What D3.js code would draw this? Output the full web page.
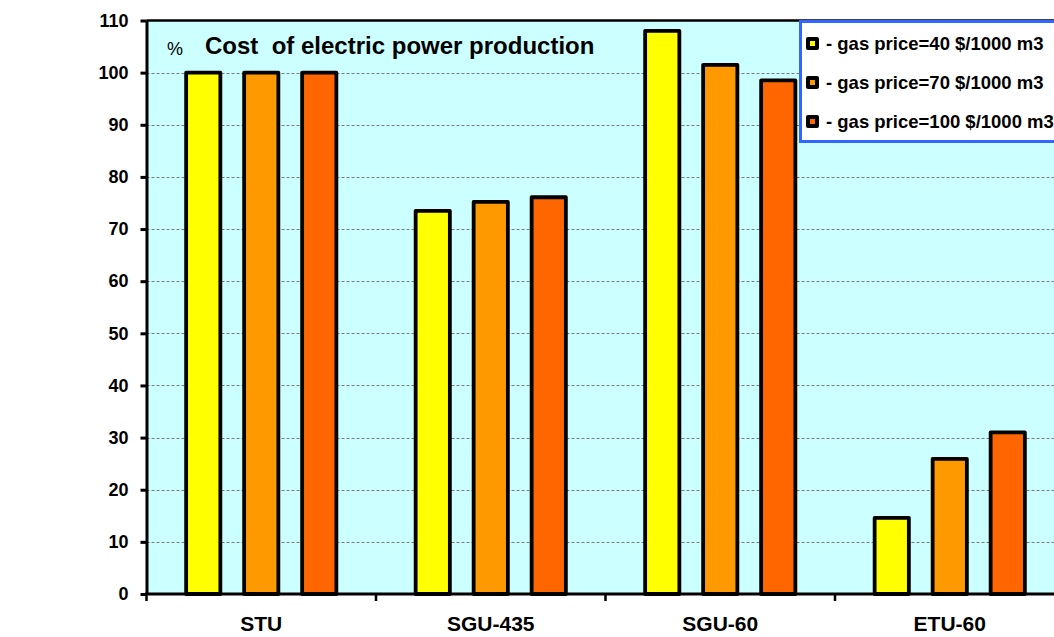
<!DOCTYPE html>
<html>
<head>
<meta charset="utf-8">
<script src="https://cdn.jsdelivr.net/npm/d3@7"></script>
<style>
  html, body { margin: 0; padding: 0; background: #ffffff; overflow: hidden; }
  svg { display: block; font-family: Arial, "Liberation Sans", sans-serif; }
</style>
</head>
<body>
<svg id="chart" width="1054" height="637"></svg>
<script>
// Plant types and gas-price scenarios
const categories = ["STU", "SGU-435", "SGU-60", "ETU-60"];
const seriesNames = ["- gas price=40 $/1000 m3", "- gas price=70 $/1000 m3", "- gas price=100 $/1000 m3"];
const gas40  = [100, 73.5, 108, 14.6];
const gas70  = [100, 75.2, 101.5, 25.9];
const gas100 = [100, 76.1, 98.5, 31.0];
const yTicks = [0, 10, 20, 30, 40, 50, 60, 70, 80, 90, 100, 110];
const colors = ["#ffff00", "#ff9900", "#ff6600"];

const seriesValues = [gas40, gas70, gas100];
const data = categories.map((c, i) => ({
  cat: c,
  values: seriesNames.map((s, j) => ({ key: s, value: seriesValues[j][i], color: colors[j] }))
}));

const svg = d3.select("#chart");
const plot = { left: 146.5, top: 20.5, right: 1064.5, bottom: 594 };

const y = d3.scaleLinear().domain([0, 110]).range([plot.bottom, plot.top]);
const x0 = d3.scaleBand().domain(categories).range([plot.left, plot.right]).padding(0);
const bw = x0.bandwidth();
const x1 = d3.scaleBand().domain(seriesNames)
  .range([bw / 2 - 87, bw / 2 + 87]).paddingInner(0.41).paddingOuter(0.205);

// plot background
svg.append("rect")
  .attr("x", plot.left).attr("y", plot.top)
  .attr("width", plot.right - plot.left).attr("height", plot.bottom - plot.top)
  .attr("fill", "#ccffff");

// dashed gridlines
svg.append("g")
  .selectAll("line")
  .data(yTicks.filter(t => t > 0 && t < 110))
  .join("line")
  .attr("x1", plot.left).attr("x2", plot.right)
  .attr("y1", d => Math.round(y(d)) + 0.5).attr("y2", d => Math.round(y(d)) + 0.5)
  .attr("stroke", "#7a7a7a").attr("stroke-width", 1)
  .attr("stroke-dasharray", "3,2");

// top border of the plot area
svg.append("line")
  .attr("x1", plot.left).attr("x2", plot.right)
  .attr("y1", plot.top).attr("y2", plot.top)
  .attr("stroke", "#000").attr("stroke-width", 2.5);

// bars
const groups = svg.append("g").selectAll("g")
  .data(data).join("g")
  .attr("transform", d => `translate(${x0(d.cat)},0)`);

groups.selectAll("rect")
  .data(d => d.values).join("rect")
  .attr("x", d => x1(d.key))
  .attr("width", x1.bandwidth())
  .attr("y", d => y(d.value))
  .attr("height", d => y(0) - y(d.value))
  .attr("fill", d => d.color)
  .attr("stroke", "#000").attr("stroke-width", 3.8)
  .attr("stroke-linejoin", "round");

// y axis
const yAxis = d3.axisLeft(y).tickValues(yTicks).tickSize(6).tickPadding(12).tickSizeOuter(0);
const gy = svg.append("g").attr("transform", `translate(${plot.left},0)`).call(yAxis);
gy.select(".domain").attr("stroke", "#000").attr("stroke-width", 3);
gy.selectAll(".tick line").attr("stroke", "#000").attr("stroke-width", 3);
gy.selectAll(".tick text")
  .attr("font-size", 18).attr("font-weight", "bold").attr("fill", "#000")
  .attr("font-family", "Arial, 'Liberation Sans', sans-serif");

// x axis with ticks between groups
const xEdges = categories.map(c => x0(c));
svg.append("line")
  .attr("x1", plot.left - 1.5).attr("x2", plot.right)
  .attr("y1", plot.bottom).attr("y2", plot.bottom)
  .attr("stroke", "#000").attr("stroke-width", 3);
svg.append("g").selectAll("line")
  .data(xEdges).join("line")
  .attr("x1", d => d).attr("x2", d => d)
  .attr("y1", plot.bottom).attr("y2", plot.bottom + 7)
  .attr("stroke", "#000").attr("stroke-width", 2.5);

svg.append("g").selectAll("text")
  .data(categories).join("text")
  .attr("x", d => x0(d) + bw / 2)
  .attr("y", 631)
  .attr("text-anchor", "middle")
  .attr("font-size", 21).attr("font-weight", "bold").attr("fill", "#000")
  .text(d => d);

// title inside the plot
svg.append("text")
  .attr("x", 167).attr("y", 55)
  .attr("font-size", 18).attr("fill", "#000")
  .text("%");
svg.append("text")
  .attr("x", 205).attr("y", 54)
  .attr("font-size", 24).attr("font-weight", "bold").attr("fill", "#000")
  .attr("xml:space", "preserve")
  .style("white-space", "pre")
  .text("Cost  of electric power production");

// legend
const legend = svg.append("g");
legend.append("rect")
  .attr("x", 800.5).attr("y", 21.5).attr("width", 270).attr("height", 120)
  .attr("fill", "#ffffff").attr("stroke", "#3366ff").attr("stroke-width", 3);

const rows = legend.selectAll("g.row")
  .data(seriesNames.map((s, j) => ({ name: s, color: colors[j] })))
  .join("g").attr("class", "row")
  .attr("transform", (d, i) => `translate(0,${43.5 + i * 39})`);
rows.append("rect")
  .attr("x", 806).attr("y", -6.5).attr("width", 13).attr("height", 13)
  .attr("rx", 2)
  .attr("fill", "#000");
rows.append("rect")
  .attr("x", 810).attr("y", -2.5).attr("width", 5).attr("height", 5)
  .attr("fill", d => d.color);
rows.append("text")
  .attr("x", 826).attr("y", 6)
  .attr("font-size", 18.5).attr("font-weight", "bold").attr("fill", "#000")
  .text(d => d.name);
</script>
</body>
</html>
